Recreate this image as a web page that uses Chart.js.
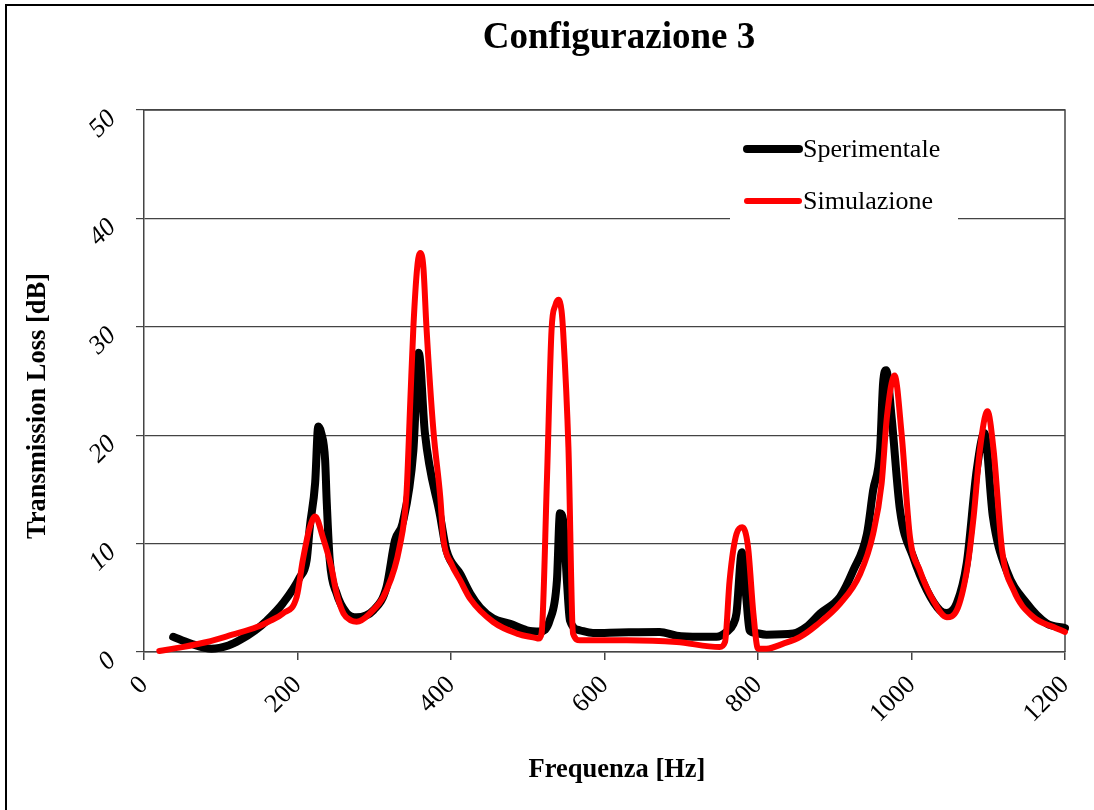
<!DOCTYPE html>
<html>
<head>
<meta charset="utf-8">
<title>Configurazione 3</title>
<script src="https://cdn.jsdelivr.net/npm/chart.js@4/dist/chart.umd.min.js"></script>
<style>
  html, body { margin: 0; padding: 0; background: #ffffff; }
  canvas { display: block; }
</style>
</head>
<body>
<canvas id="tl" width="1094" height="810"></canvas>
<script>
// Transmission loss, configuration 3: measured vs simulated curves
const chartTitle = 'Configurazione 3';
const xTitle = 'Frequenza [Hz]';
const yTitle = 'Transmission Loss [dB]';
const seriesLabels = ['Sperimentale', 'Simulazione'];

const xTickValues = [0, 200, 400, 600, 800, 1000, 1200];
const yTickValues = [0, 10, 20, 30, 40, 50];

// Measured curve (Hz, dB)
const freqSper = [38, 60, 88, 110, 125, 145, 160, 181, 203, 212, 216, 223, 227, 231, 236, 238, 242, 251, 264, 277,
  299, 316, 327, 337, 351, 358, 366, 386, 394, 412, 425, 438, 455, 477, 499, 516, 529, 538, 542, 546,
  551, 555, 568, 585, 620, 672, 694, 724, 746, 759, 768, 772, 779, 785, 789, 794, 811, 846, 863, 881,
  907, 924, 942, 950, 959, 963, 967, 974, 985, 1002, 1020, 1037, 1046, 1059, 1072, 1085, 1095, 1106, 1124, 1150,
  1176, 1200];
const tlSper = [1.4, 0.8, 0.3, 0.6, 1.1, 2.0, 2.9, 4.5, 6.9, 8.5, 11.5, 15.6, 20.8, 20.2, 17.7, 14.0, 8.5, 5.4, 3.6, 3.2,
  3.85, 6.0, 10.3, 11.9, 18.6, 27.6, 20.2, 12.5, 9.4, 7.2, 5.4, 4.1, 3.1, 2.6, 2.0, 1.9, 3.0, 6.6, 12.8, 12.2,
  6.6, 2.9, 2.0, 1.75, 1.8, 1.85, 1.5, 1.4, 1.4, 1.85, 2.6, 3.6, 9.2, 4.8, 2.0, 1.8, 1.6, 1.7, 2.3, 3.55,
  5.1, 7.5, 10.9, 14.9, 18.6, 24.8, 26.0, 21.7, 13.1, 8.8, 5.7, 3.85, 3.6, 4.5, 8.2, 16.8, 20.2, 12.5, 7.5, 4.5,
  2.65, 2.2];

// Simulated curve (Hz, dB)
const freqSim = [20, 50, 82, 115, 147, 165, 181, 199, 207, 216, 223, 233, 244, 251, 260, 270, 277, 294, 316, 333,
  342, 347, 351, 356, 360, 364, 368, 377, 386, 390, 400, 412, 425, 455, 486, 510, 514, 518, 525, 531,
  536, 540, 544, 546, 553, 559, 568, 629, 694, 750, 757, 763, 772, 779.5, 787, 794, 800, 811, 833, 855,
  876, 907, 933, 950, 961, 968, 978, 987, 998, 1011, 1028, 1046, 1059, 1072, 1081, 1089, 1099, 1107, 1118, 1133,
  1159, 1185, 1200];
const tlSim = [0.1, 0.45, 0.92, 1.6, 2.3, 2.9, 3.55, 5.1, 8.5, 11.5, 12.5, 10.6, 7.85, 5.4, 3.55, 2.9, 2.8, 3.55, 5.7, 9.7,
  14.6, 23.2, 30.0, 35.5, 36.8, 35.5, 30.0, 20.5, 14.3, 10.5, 8.2, 6.6, 4.9, 2.77, 1.7, 1.3, 1.24, 1.7, 15.9, 29.7,
  32.0, 32.5, 31.5, 29.7, 18.9, 1.7, 1.08, 1.08, 0.92, 0.46, 0.92, 6.6, 10.9, 11.5, 9.7, 3.55, 0.3, 0.3, 0.77, 1.4,
  2.46, 4.47, 7.2, 10.9, 15.5, 21.7, 25.5, 20.2, 10.6, 7.5, 4.8, 3.2, 3.85, 7.5, 12.5, 18.6, 22.2, 18.6, 9.4, 5.7,
  3.2, 2.3, 1.85];

const toPoints = (xs, ys) => xs.map((x, i) => ({ x: x, y: ys[i] }));

const serif = "'Liberation Serif', 'Times New Roman', serif";
const gridColor = '#444444';

// Frame, plot box, titles and an in-plot legend
const decorations = {
  id: 'decorations',
  beforeDatasetsDraw(chart) {
    const { ctx, chartArea: a } = chart;
    ctx.save();
    ctx.strokeStyle = gridColor;
    ctx.lineWidth = 1.5;
    ctx.beginPath();
    ctx.moveTo(a.left, a.top);
    ctx.lineTo(a.right, a.top);
    ctx.lineTo(a.right, a.bottom);
    ctx.stroke();
    ctx.restore();
  },
  afterDraw(chart) {
    const { ctx } = chart;
    ctx.save();
    // outer frame
    ctx.strokeStyle = '#000000';
    ctx.lineWidth = 2;
    ctx.strokeRect(6, 5, chart.width + 10, chart.height + 10);

    ctx.fillStyle = '#000000';
    // main title
    ctx.font = 'bold 37px ' + serif;
    ctx.textAlign = 'center';
    ctx.textBaseline = 'alphabetic';
    ctx.fillText(chartTitle, 619, 48);
    // x axis title
    ctx.font = 'bold 26.5px ' + serif;
    ctx.fillText(xTitle, 617, 777);
    // y axis title
    ctx.save();
    ctx.translate(45, 406);
    ctx.rotate(-Math.PI / 2);
    ctx.fillText(yTitle, 0, 0);
    ctx.restore();

    // legend
    const lx = 730, ly = 126, lw = 228, lh = 98;
    ctx.fillStyle = '#ffffff';
    ctx.fillRect(lx, ly, lw, lh);
    const entries = [chart.data.datasets[0], chart.data.datasets[1]];
    const rows = [149, 201];
    ctx.font = '26px ' + serif;
    ctx.textAlign = 'left';
    ctx.textBaseline = 'middle';
    entries.forEach((ds, i) => {
      ctx.strokeStyle = ds.borderColor;
      ctx.lineWidth = ds.borderWidth;
      ctx.lineCap = 'round';
      ctx.beginPath();
      ctx.moveTo(747, rows[i]);
      ctx.lineTo(799, rows[i]);
      ctx.stroke();
      ctx.fillStyle = '#000000';
      ctx.fillText(ds.label, 803, rows[i] + 1);
    });
    ctx.restore();
  }
};

new Chart(document.getElementById('tl'), {
  type: 'line',
  data: {
    datasets: [
      {
        label: seriesLabels[0],
        data: toPoints(freqSper, tlSper),
        borderColor: '#000000',
        borderWidth: 8,
        order: 1
      },
      {
        label: seriesLabels[1],
        data: toPoints(freqSim, tlSim),
        borderColor: '#ff0000',
        borderWidth: 6,
        order: 0
      }
    ]
  },
  options: {
    responsive: false,
    animation: false,
    devicePixelRatio: 1,
    layout: { padding: { left: 0, top: 110, right: 29, bottom: 0 } },
    elements: {
      point: { radius: 0, hoverRadius: 0 },
      line: {
        cubicInterpolationMode: 'monotone',
        borderCapStyle: 'round',
        borderJoinStyle: 'round',
        fill: false
      }
    },
    datasets: { line: { clip: 12 } },
    plugins: {
      legend: { display: false },
      title: { display: false },
      tooltip: { enabled: false }
    },
    scales: {
      x: {
        type: 'linear',
        min: 0,
        max: 1200,
        afterFit(scale) {
          scale.height = 158;
          scale.paddingLeft = 0;
          scale.paddingRight = 0;
        },
        afterBuildTicks(scale) { scale.ticks = xTickValues.map(v => ({ value: v })); },
        ticks: {
          minRotation: 45,
          maxRotation: 45,
          padding: 10,
          color: '#000000',
          font: { family: serif, size: 26 },
          callback: (v) => String(v)
        },
        grid: { drawOnChartArea: false, drawTicks: true, tickLength: 8, color: gridColor, lineWidth: 1.5 },
        border: { display: true, color: gridColor, width: 1.5 }
      },
      y: {
        type: 'linear',
        min: 0,
        max: 50,
        afterFit(scale) { scale.width = 144; },
        afterBuildTicks(scale) { scale.ticks = yTickValues.map(v => ({ value: v })); },
        ticks: {
          minRotation: 45,
          maxRotation: 45,
          padding: 24,
          labelOffset: 5,
          color: '#000000',
          font: { family: serif, size: 26, style: 'italic' },
          callback: (v) => String(v)
        },
        grid: { color: gridColor, lineWidth: 1.2, tickLength: 8, drawTicks: true },
        border: { display: true, color: gridColor, width: 1.5 }
      }
    }
  },
  plugins: [decorations]
});
</script>
</body>
</html>
